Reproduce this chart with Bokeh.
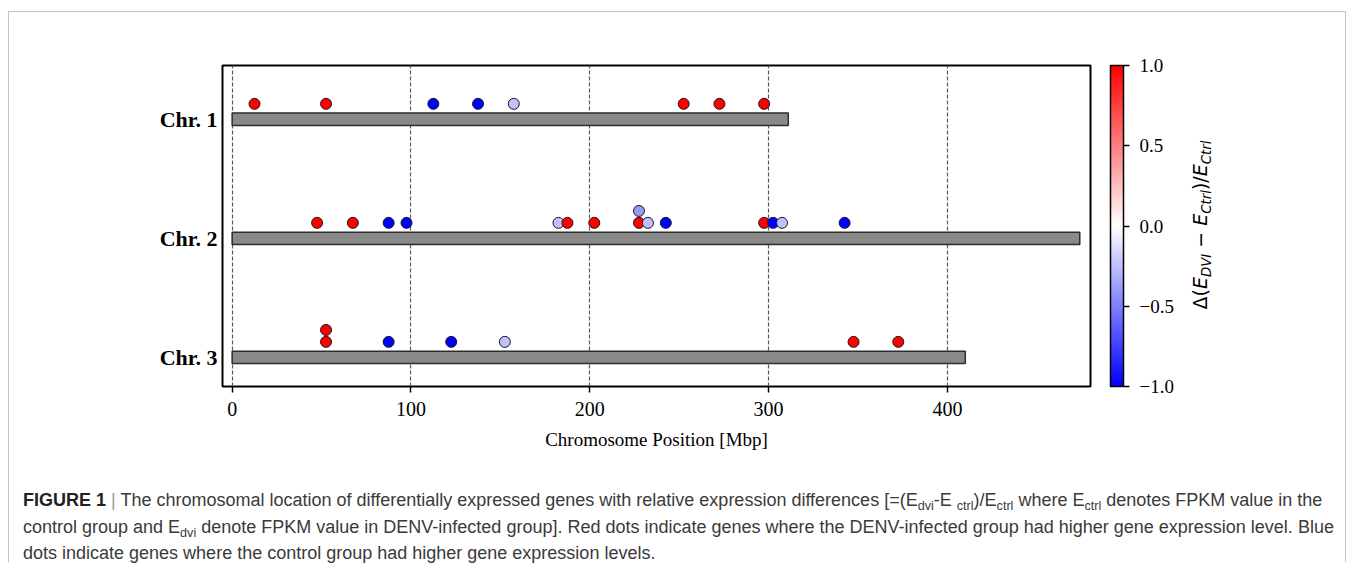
import math
from bokeh.plotting import figure
from bokeh.models import (Range1d, FixedTicker, ColorBar, LinearColorMapper, Div,
                          ColumnDataSource)
from bokeh.layouts import column, row
from bokeh.transform import linear_cmap
from bokeh.embed import file_html
from bokeh.resources import INLINE

# ---------------- data ----------------
chrom_names = ["Chr. 1", "Chr. 2", "Chr. 3"]
chrom_rows = [2, 1, 0]
chrom_lengths = [311, 474, 410]
x_ticks = [0, 100, 200, 300, 400]
cbar_ticks = [-1.0, -0.5, 0.0, 0.5, 1.0]
cbar_tick_labels = ["\u22121.0", "\u22120.5", "0.0", "0.5", "1.0"]

chr1_pos = [12.5, 52.5, 112.5, 137.5, 157.5, 252.5, 272.5, 297.5]
chr1_val = [1, 1, -1, -1, -0.25, 1, 1, 1]
chr1_stack = [0, 0, 0, 0, 0, 0, 0, 0]

chr2_pos = [47.5, 67.5, 87.5, 97.5, 182.5, 187.5, 202.5, 227.5, 227.5, 232.5,
            242.5, 297.5, 302.5, 307.5, 342.5]
chr2_val = [1, 1, -1, -1, -0.25, 1, 1, 1, -0.4, -0.25, -1, 1, -1, -0.25, -1]
chr2_stack = [0, 0, 0, 0, 0, 0, 0, 0, 1, 0, 0, 0, 0, 0, 0]

chr3_pos = [52.5, 52.5, 87.5, 122.5, 152.5, 347.5, 372.5]
chr3_val = [1, 1, -1, -1, -0.25, 1, 1]
chr3_stack = [0, 1, 0, 0, 0, 0, 0]

# ---------------- colormap (matplotlib "bwr") ----------------
def bwr(n=256):
    pal = []
    for i in range(n):
        t = i / (n - 1)
        if t < 0.5:
            c = int(round(255 * 2 * t))
            pal.append("#%02x%02x%02x" % (c, c, 255))
        else:
            c = int(round(255 * 2 * (1 - t)))
            pal.append("#%02x%02x%02x" % (255, c, c))
    return pal

palette = bwr()

SERIF = "Liberation Serif"
H = 448
W1 = 1185
W2 = 1336 - W1

p = figure(width=W1, height=H,
           x_range=Range1d(-5.4, 480), y_range=Range1d(-0.245, 2.452),
           output_backend="svg", toolbar_location=None,
           min_border_left=213, min_border_right=104,
           min_border_top=53, min_border_bottom=74)
p.background_fill_color = "white"
p.border_fill_color = "white"
p.outline_line_color = "black"
p.outline_line_width = 2

# grid
p.ygrid.visible = False
p.xgrid.ticker = FixedTicker(ticks=x_ticks)
p.xgrid.grid_line_color = "#5a5a5a"
p.xgrid.grid_line_dash = "4 2"
p.xgrid.grid_line_width = 1.2

# x axis
p.xaxis.ticker = FixedTicker(ticks=x_ticks)
p.xaxis.axis_line_color = None
p.xaxis.major_tick_in = 0
p.xaxis.major_tick_out = 6
p.xaxis.major_tick_line_width = 1.5
p.xaxis.major_tick_line_color = "black"
p.xaxis.minor_tick_line_color = None
p.xaxis.major_label_text_font = SERIF
p.xaxis.major_label_text_font_size = "20px"
p.xaxis.major_label_text_color = "black"
p.xaxis.major_label_standoff = 9
p.xaxis.axis_label = "Chromosome Position [Mbp]"
p.xaxis.axis_label_text_font = SERIF
p.xaxis.axis_label_text_font_style = "normal"
p.xaxis.axis_label_text_font_size = "19px"
p.xaxis.axis_label_text_color = "black"
p.xaxis.axis_label_standoff = 10

# y axis
p.yaxis.ticker = FixedTicker(ticks=chrom_rows)
p.yaxis.major_label_overrides = {r: n for r, n in zip(chrom_rows, chrom_names)}
p.yaxis.axis_line_color = None
p.yaxis.major_tick_in = 0
p.yaxis.major_tick_out = 0
p.yaxis.minor_tick_line_color = None
p.yaxis.major_label_text_font = SERIF
p.yaxis.major_label_text_font_style = "bold"
p.yaxis.major_label_text_font_size = "22px"
p.yaxis.major_label_text_color = "black"
p.yaxis.major_label_standoff = 5

# chromosome bars
p.hbar(y=chrom_rows, left=0, right=chrom_lengths, height=0.104,
       fill_color="#898989", line_color="#2e2e2e", line_width=1.5)

# gene dots
xs, ys, vs = [], [], []
for r, pos, val, stk in [(chrom_rows[0], chr1_pos, chr1_val, chr1_stack),
                         (chrom_rows[1], chr2_pos, chr2_val, chr2_stack),
                         (chrom_rows[2], chr3_pos, chr3_val, chr3_stack)]:
    for x, v, s in zip(pos, val, stk):
        xs.append(x)
        ys.append(r + 0.13 + 0.1 * s)
        vs.append(v)
src = ColumnDataSource(dict(x=xs, y=ys, val=vs))
p.scatter("x", "y", source=src, size=11,
          fill_color=linear_cmap("val", palette, -1, 1),
          line_color="#1a1a1a", line_width=1)

# colorbar
mapper = LinearColorMapper(palette=palette, low=-1, high=1)
cb = ColorBar(color_mapper=mapper, width=13, height=321, location=(20, 0),
              margin=0, padding=0,
              ticker=FixedTicker(ticks=cbar_ticks),
              major_label_overrides=dict(zip(cbar_ticks, cbar_tick_labels)),
              major_tick_in=0, major_tick_out=6,
              major_tick_line_color="black", major_tick_line_width=1.5,
              minor_tick_line_color=None,
              bar_line_color="black", bar_line_width=1.5,
              border_line_color=None, background_fill_color=None,
              major_label_text_font=SERIF, major_label_text_font_size="19px",
              major_label_text_color="black", label_standoff=10)
p.add_layout(cb, "right")

# ---------------- colorbar label (rotated, with subscripts) ----------------
sb = '<sub style="font-size:70%;vertical-align:-0.28em;line-height:0">'
cbar_label = ('Δ(<i>E</i>' + sb + '<i>DVI</i></sub> − <i>E</i>' + sb + '<i>Ctrl</i></sub>)/<i>E</i>'
              + sb + '<i>Ctrl</i></sub>')
label_html = (
    '<div style="position:relative;width:%dpx;height:0px;">'
    '<div style="position:absolute;left:-6px;top:311px;width:220px;height:24px;'
    'line-height:24px;text-align:center;white-space:nowrap;'
    'font-family:\'DejaVu Sans\';font-size:19px;color:black;'
    'transform-origin:0 0;transform:rotate(-90deg);">%s</div></div>'
) % (W2, cbar_label)
label_div = Div(text=label_html, width=W2, height=H, margin=0)

# ---------------- caption ----------------
sub = '<sub style="font-size:70%;vertical-align:-0.3em;line-height:0">'
caption = (
    '<div style="font-family:\'Liberation Sans\',Arial,sans-serif;font-size:18px;'
    'line-height:26.5px;color:#3a3a3a;padding:27px 0 0 14px;white-space:nowrap;">'
    '<b style="color:#222">FIGURE 1</b> <span style="color:#999">|</span> The chromosomal location of '
    'differentially expressed genes with relative expression differences [=(E' + sub + 'dvi</sub>-E '
    + sub + 'ctrl</sub>)/E' + sub + 'ctrl</sub> where E' + sub + 'ctrl</sub> denotes FPKM value in the<br>'
    'control group and E' + sub + 'dvi</sub> denote FPKM value in DENV-infected group]. Red dots indicate '
    'genes where the DENV-infected group had higher gene expression level. Blue<br>'
    'dots indicate genes where the control group had higher gene expression levels.'
    '</div>'
)
div = Div(text=caption, width=1336, height=102, margin=0)

layout = column(row(p, label_div), div,
                styles={"border-top": "1px solid #c4c4c4",
                        "border-left": "1px solid #c4c4c4",
                        "border-right": "1px solid #c4c4c4",
                        "margin-top": "11px", "margin-left": "8px"})

open("out.html", "w").write(file_html(layout, INLINE))
